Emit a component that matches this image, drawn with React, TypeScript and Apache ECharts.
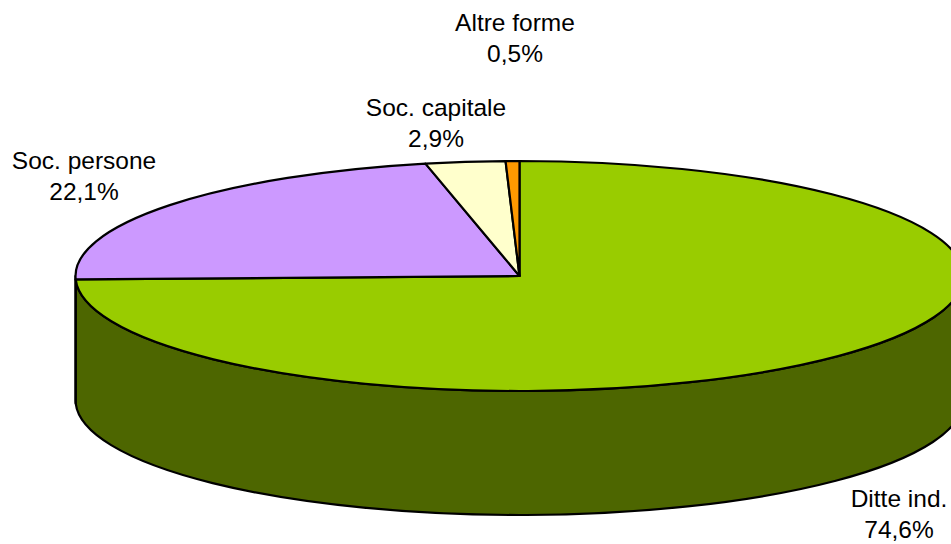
import React, { useEffect, useRef } from "react";
import * as echarts from "echarts";

const categories = ["Ditte ind.", "Soc. persone", "Soc. capitale", "Altre forme"];
const shares = [74.6, 22.1, 2.9, 0.5];
const percentLabels = ["74,6%", "22,1%", "2,9%", "0,5%"];

const topColors = ["#99cc00", "#cc99ff", "#ffffcc", "#ff9900"];
const sideColors = ["#4d6600", "#664d80", "#808066", "#804d00"];
const labelCentres = [
  [899, 514],
  [84, 175.5],
  [436, 123],
  [515, 38],
];

const CX = 519.5;
const CY = 276;
const RX = 444;
const RY = 115;
const DEPTH = 124;
const FONT = '"Liberation Sans", Arial, sans-serif';

const point = (a: number, dy = 0) => [CX + RX * Math.sin(a), CY + dy - RY * Math.cos(a)];
const arcTo = (a0: number, a1: number, dy = 0, sweep = 1) => {
  const [x, y] = point(a1, dy);
  return `A ${RX} ${RY} 0 ${Math.abs(a1 - a0) > Math.PI ? 1 : 0} ${sweep} ${x} ${y}`;
};

export default function App() {
  const ref = useRef<HTMLDivElement>(null);
  useEffect(() => {
    document.body.style.margin = "0";
    const chart = echarts.init(ref.current!, undefined, { renderer: "svg" });
    const total = shares.reduce((s, v) => s + v, 0);
    const spans: [number, number][] = [];
    let acc = 0;
    shares.forEach((v) => {
      const a0 = (acc / total) * Math.PI * 2;
      acc += v;
      spans.push([a0, (acc / total) * Math.PI * 2]);
    });
    const stroke = { stroke: "#000", lineWidth: 2.2, lineJoin: "round" };

    const renderItem = (params: any) => {
      const i = params.dataIndex;
      const [a0, a1] = spans[i];
      const children: any[] = [];
      // visible wall: the part of the slice on the front half of the rim
      const s0 = Math.max(a0, Math.PI / 2);
      const s1 = Math.min(a1, (Math.PI * 3) / 2);
      if (s1 > s0) {
        const [x0, y0] = point(s0);
        const [x1, y1] = point(s1, DEPTH);
        children.push({
          type: "path",
          shape: {
            pathData: `M ${x0} ${y0} ${arcTo(s0, s1)} L ${x1} ${y1} ${arcTo(s1, s0, DEPTH, 0)} Z`,
          },
          style: { fill: sideColors[i], ...stroke },
        });
      }
      return { type: "group", children };
    };

    const renderTop = (params: any) => {
      const i = params.dataIndex;
      const [a0, a1] = spans[i];
      const [x0, y0] = point(a0);
      return {
        type: "group",
        children: [
          {
            type: "path",
            shape: {
              pathData: `M ${CX} ${CY} L ${x0} ${y0} ${arcTo(a0, a1)} Z`,
            },
            style: { fill: topColors[i], ...stroke },
          },
          {
            type: "text",
            x: labelCentres[i][0],
            y: labelCentres[i][1],
            style: {
              text: `${categories[i]}\n${percentLabels[i]}`,
              fill: "#000",
              font: `24.5px ${FONT}`,
              lineHeight: 31,
              align: "center",
              verticalAlign: "middle",
            },
          },
        ],
      };
    };

    const data = categories.map((name, i) => ({ name, value: shares[i] }));
    chart.setOption({
      animation: false,
      backgroundColor: "#fff",
      series: [
        { type: "custom", coordinateSystem: "none", renderItem, data, silent: true, z: 1, clip: false },
        { type: "custom", coordinateSystem: "none", renderItem: renderTop, data, silent: true, z: 2, clip: false },
      ],
    });
    return () => chart.dispose();
  }, []);
  return <div ref={ref} style={{ width: 951, height: 544 }} />;
}
